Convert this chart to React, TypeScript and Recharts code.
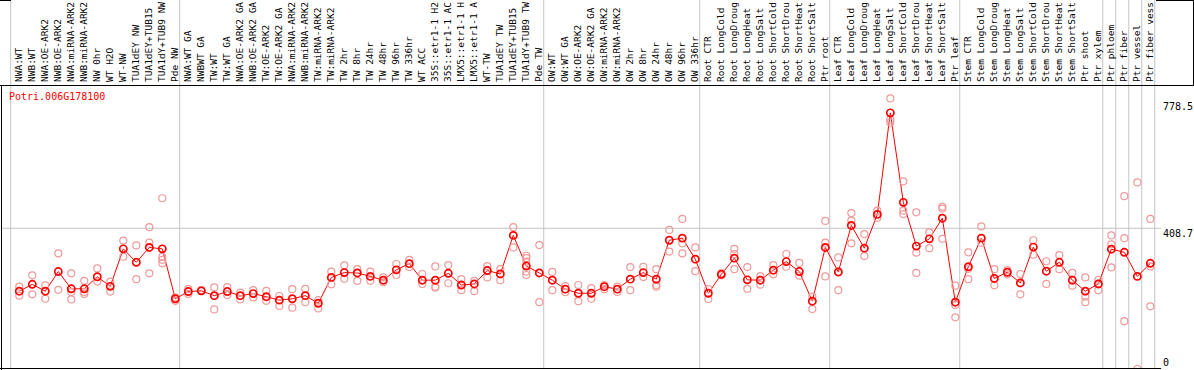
import React from "react";
import {
  ComposedChart,
  Line,
  Scatter,
  XAxis,
  YAxis,
  ReferenceLine,
} from "recharts";

const geneName = "Potri.006G178100";

// sample labels as they show in the header (cut to 14 characters)
const categories = [
  "NWA:WT", "NWB:WT", "NWA:OE-ARK2", "NWB:OE-ARK2", "NWA:miRNA-ARK2", "NWB:miRNA-ARK2",
  "NW 0hr", "WT H2O", "WT-NW", "TUA1dEY NW", "TUA1dEY+TUB15", "TUA1dY+TUB9 NW", "Pde NW",
  "NWA:WT GA", "NWBWT GA", "TW:WT", "TW:WT GA", "NWA:OE-ARK2 GA", "NWB:OE-ARK2 GA",
  "TW:OE-ARK2", "TW:OE-ARK2 GA", "NWA:miRNA-ARK2", "NWB:miRNA-ARK2", "TW:miRNA-ARK2",
  "TW:miRNA-ARK2", "TW 2hr", "TW 8hr", "TW 24hr", "TW 48hr", "TW 96hr", "TW 336hr",
  "WT ACC", "35S::etr1-1 H2", "35S::etr1-1 AC", "LMX5::etr1-1 H", "LMX5::etr1-1 A",
  "WT-TW", "TUA1dEY TW", "TUA1dEY+TUB15", "TUA1dY+TUB9 TW", "Pde TW",
  "OW:WT", "OW:WT GA", "OW:OE-ARK2", "OW:OE-ARK2 GA", "OW:miRNA-ARK2", "OW:miRNA-ARK2",
  "OW 2hr", "OW 8hr", "OW 24hr", "OW 48hr", "OW 96hr", "OW 336hr",
  "Root CTR", "Root LongCold", "Root LongDroug", "Root LongHeat", "Root LongSalt",
  "Root ShortCold", "Root ShortDrou", "Root ShortHeat", "Root ShortSalt", "Ptr root",
  "Leaf CTR", "Leaf LongCold", "Leaf LongDroug", "Leaf LongHeat", "Leaf LongSalt",
  "Leaf ShortCold", "Leaf ShortDrou", "Leaf ShortHeat", "Leaf ShortSalt", "Ptr leaf",
  "Stem CTR", "Stem LongCold", "Stem LongDroug", "Stem LongHeat", "Stem LongSalt",
  "Stem ShortCold", "Stem ShortDrou", "Stem ShortHeat", "Stem ShortSalt", "Ptr shoot",
  "Ptr xylem", "Ptr phloem", "Ptr fiber", "Ptr vessel", "Ptr fiber vess",
];

const means = [
  226, 246, 226, 283, 233, 233, 268, 240, 349, 310, 353, 349, 204,
  225, 227, 213, 225, 213, 219, 210, 200, 204, 213, 191, 266, 280, 279, 269, 258,
  288, 306, 258, 258, 278, 244, 247, 286, 276, 388, 299, 279,
  258, 232, 220, 220, 239, 232, 261, 280, 261, 374, 380, 319,
  220, 275, 322, 259, 258, 287, 312, 283, 197, 353,
  282, 417, 351, 449, 744, 484, 357, 378, 438, 194,
  297, 380, 263, 281, 250, 354, 284, 310, 258, 226, 247,
  348, 339, 269, 307,
];

const replicates = [
  [239, 213], [272, 217], [243, 204], [336, 230], [278, 224, 202], [256, 224, 218],
  [292, 254], [254, 225], [373, 326], [359, 261], [412, 367, 278], [496, 326, 317, 307],
  [208, 198],
  [232, 218], [229, 226], [237, 173], [238, 215], [222, 202], [229, 208], [227, 198],
  [212, 183], [232, 178], [233, 194], [200, 176], [283, 246], [301, 262], [290, 256],
  [283, 256], [266, 252], [305, 273], [317, 296], [276, 247], [298, 239, 236],
  [302, 249], [261, 229], [256, 226], [299, 266], [290, 258], [412, 353],
  [329, 322, 312, 283, 273], [360, 194],
  [282, 229], [241, 223], [244, 197], [235, 204], [244, 232], [239, 224], [296, 229],
  [297, 267], [290, 244, 239], [404, 341], [436, 365, 336], [353, 284],
  [232, 203], [278, 272], [349, 334, 290], [296, 233], [270, 245], [302, 275],
  [334, 297], [308, 271], [210, 174], [430, 367, 269],
  [324, 280, 229], [453, 431, 365], [392, 328], [460, 439], [786, 725, 716],
  [545, 460, 450], [455, 338, 279], [397, 351], [471, 466, 378], [242, 186, 150],
  [339, 291, 261], [414, 367], [290, 243], [287, 275], [276, 217], [374, 332],
  [313, 247], [331, 290], [279, 242], [266, 210, 194], [259, 229],
  [388, 362, 295], [502, 380, 139], [542, 0], [436, 298, 182],
];

// first index of each block (last entry closes the final block)
const groupBreaks = [0, 13, 41, 53, 63, 73, 84, 85, 86, 87, 88];
const yTicks = [0, 408.7, 778.5];

const W = 1194;
const H = 370;
const HEADER = 86;
const RIGHT_AXIS = 33;
const X_DOMAIN: [number, number] = [-1.33, 87.82];
const Y_DOMAIN: [number, number] = [0, 822];
const BREAK_OFFSET = 0.66;
const MONO = "'DejaVu Sans Mono', monospace";

const lineData = means.map((m, i) => ({ idx: i, mean: m }));
const repData = replicates.flatMap((r, i) => r.map((v) => ({ idx: i, v })));

const HeaderTick = (props: any) => {
  const { x, y, payload } = props;
  const label = categories[payload.value];
  if (label === undefined) return null;
  const tx = x + 2.5;
  const ty = y - 4;
  return (
    <text
      x={tx}
      y={ty}
      transform={`rotate(-90, ${tx}, ${ty})`}
      fontFamily={MONO}
      fontSize={9.5}
      fill="#000"
      textAnchor="start"
    >
      {label}
    </text>
  );
};

const ValueTick = (props: any) => {
  const { x, y, payload } = props;
  const ty = payload.value === 0 ? y - 3 : y + 9;
  return (
    <text x={x + 2} y={ty} fontFamily={MONO} fontSize={10} fill="#000">
      {payload.value}
    </text>
  );
};

const RepDot = (props: any) => {
  const { cx, cy } = props;
  if (cx == null || cy == null) return null;
  return <circle cx={cx} cy={cy} r={3.5} fill="none" stroke="#f09a9a" strokeWidth={1.2} />;
};

export default function App() {
  const plotRight = W - RIGHT_AXIS;
  return (
    <div style={{ position: "absolute", left: 0, top: 0, width: W, height: H, background: "#fff" }}>
      <ComposedChart
        width={W}
        height={H}
        data={lineData}
        margin={{ top: 0, right: 0, bottom: 1, left: 2 }}
      >
        <XAxis
          xAxisId={0}
          type="number"
          dataKey="idx"
          orientation="top"
          height={HEADER}
          domain={X_DOMAIN}
          allowDataOverflow
          ticks={categories.map((_, i) => i)}
          interval={0}
          tick={<HeaderTick />}
          tickLine={false}
          axisLine={false}
          tickSize={0}
          tickMargin={0}
        />
        <YAxis
          yAxisId={0}
          orientation="right"
          width={RIGHT_AXIS}
          domain={Y_DOMAIN}
          allowDataOverflow
          ticks={yTicks}
          interval={0}
          tick={<ValueTick />}
          tickLine={false}
          axisLine={false}
          tickSize={0}
          tickMargin={0}
        />
        <ReferenceLine y={408.7} stroke="#c4c4c4" strokeWidth={1} />
        {groupBreaks.map((b) => (
          <ReferenceLine
            key={`brk-${b}`}
            ifOverflow="visible"
            segment={[
              { x: b - BREAK_OFFSET, y: 0 },
              { x: b - BREAK_OFFSET, y: 1075 },
            ]}
            stroke="#c4c4c4"
            strokeWidth={1}
          />
        ))}
        <Scatter
          data={repData}
          dataKey="v"
          shape={<RepDot />}
          isAnimationActive={false}
        />
        <Line
          type="linear"
          dataKey="mean"
          stroke="#ff0000"
          strokeWidth={1}
          dot={{ r: 3.6, stroke: "#ff0000", strokeWidth: 1.7, fill: "none" }}
          activeDot={false}
          isAnimationActive={false}
        />
      </ComposedChart>
      <svg
        width={W}
        height={H}
        style={{ position: "absolute", left: 0, top: 0, pointerEvents: "none" }}
      >
        <g stroke="#000" strokeWidth={1} shapeRendering="crispEdges">
          <line x1={0} y1={HEADER - 0.5} x2={W} y2={HEADER - 0.5} />
          <line x1={1.5} y1={HEADER} x2={1.5} y2={H} />
          <line x1={0} y1={H - 1.5} x2={plotRight} y2={H - 1.5} />
          <line x1={0} y1={0.5} x2={11} y2={0.5} />
          <line x1={1156} y1={0.5} x2={W} y2={0.5} />
          <line x1={W - 0.5} y1={0} x2={W - 0.5} y2={HEADER} />
        </g>
        <text x={9} y={100} fontFamily={MONO} fontSize={10} fill="#ff0000">
          {geneName}
        </text>
      </svg>
    </div>
  );
}
